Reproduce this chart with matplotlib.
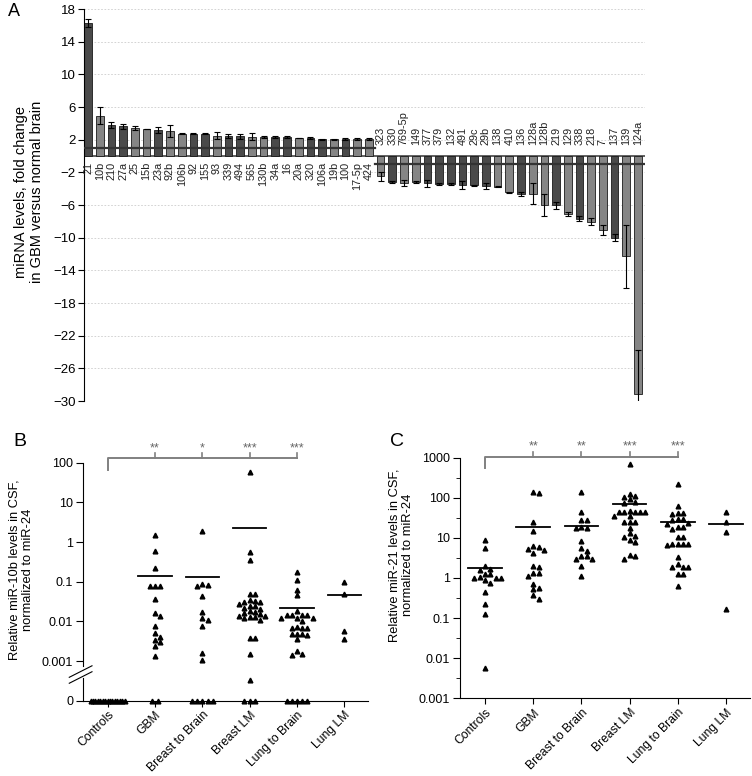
import numpy as np
import matplotlib
matplotlib.use('Agg')
import matplotlib.pyplot as plt
from matplotlib.ticker import FixedLocator, NullFormatter

plt.rcParams['font.family'] = ['Liberation Sans', 'DejaVu Sans']

## Panel A : fold change GBM vs normal brain
mir_up = ['21', '10b', '210', '27a', '25', '15b', '23a', '92b', '106b', '92', '155', '93',
          '339', '494', '565', '130b', '34a', '16', '20a', '320', '106a', '19b', '100',
          '17-5p', '424']
fc_up = [16.3, 4.95, 3.8, 3.65, 3.4, 3.3, 3.15, 3.05, 2.75, 2.75, 2.75, 2.5,
         2.45, 2.4, 2.35, 2.35, 2.3, 2.3, 2.2, 2.2, 2.05, 2.05, 2.05, 2.05, 2.05]
err_up = [0.5, 1.05, 0.4, 0.3, 0.25, 0.05, 0.35, 0.75, 0.05, 0.05, 0.05, 0.45,
          0.25, 0.3, 0.45, 0.15, 0.1, 0.15, 0.05, 0.1, 0.05, 0.05, 0.1, 0.1, 0.1]
shade_up = 'dlddlldlldd' + 'lddlldd' + 'ldd' + 'ldll'

mir_down = ['323', '330', '769-5p', '149', '377', '379', '132', '491', '29c', '29b', '138',
            '410', '136', '128a', '128b', '219', '129', '338', '218', '7', '137', '139', '124a']
fc_down = [-2.5, -3.2, -3.3, -3.2, -3.35, -3.45, -3.45, -3.55, -3.6, -3.65, -3.75,
           -4.45, -4.65, -4.6, -6.0, -6.05, -7.1, -7.7, -8.05, -9.1, -10.0, -12.3, -29.2]
err_down_lo = [0.5, 0.1, 0.4, 0.15, 0.4, 0.15, 0.15, 0.5, 0.05, 0.4, 0.05,
               0.1, 0.3, 1.3, 1.4, 0.45, 0.2, 0.3, 0.4, 0.6, 0.4, 3.9, 1.1]
err_down_hi = [0.5, 0.1, 0.4, 0.15, 0.4, 0.15, 0.15, 0.5, 0.05, 0.4, 0.05,
               0.1, 0.3, 1.3, 1.4, 0.45, 0.2, 0.3, 0.4, 0.6, 0.4, 3.9, 5.4]
shade_down = 'ldlldddddd' + 'lldlldldlldll'

## Panels B and C : CSF levels
groups = ['Controls', 'GBM', 'Breast to Brain', 'Breast LM', 'Lung to Brain', 'Lung LM']

ctrl_10b = [0] * 15
gbm_10b = [1.52, 0.61, 0.22, 0.08, 0.076, 0.078, 0.037, 0.016, 0.0135, 0.0076, 0.0050,
           0.0041, 0.0034, 0.0030, 0.0024, 0.00134, 0, 0]
b2b_10b = [1.85, 0.086, 0.084, 0.077, 0.043, 0.017, 0.0123, 0.0107, 0.0076, 0.00155,
           0.00107, 0, 0, 0, 0, 0]
blm_10b = [59, 0.55, 0.35, 0.05, 0.048, 0.035, 0.033, 0.031, 0.030, 0.028, 0.025, 0.024,
           0.022, 0.020, 0.018, 0.017, 0.016, 0.015, 0.014, 0.0138, 0.013, 0.0128, 0.012,
           0.011, 0.0038, 0.0037, 0.0015, 0.00033, 0, 0, 0]
ltb_10b = [0.176, 0.108, 0.063, 0.045, 0.018, 0.0145, 0.0143, 0.0146, 0.0142, 0.0124,
           0.0122, 0.0123, 0.0102, 0.0070, 0.0069, 0.0068, 0.0071, 0.0047, 0.0046, 0.0048,
           0.0047, 0.0036, 0.0018, 0.00148, 0.00146, 0, 0, 0, 0, 0]
llm_10b = [0.097, 0.050, 0.0056, 0.0036]
means_10b = [np.nan, 0.137, 0.129, 2.3, 0.022, 0.045]
stars_10b = ['**', '*', '***', '***']

ctrl_21 = [8.9, 5.7, 2.03, 1.65, 1.62, 1.27, 1.24, 1.03, 1.01, 1.0, 0.98, 0.89, 0.74,
           0.46, 0.23, 0.127, 0.0056]
gbm_21 = [142, 135, 25, 15, 6.3, 5.9, 5.3, 5.1, 4.3, 1.95, 1.85, 1.37, 1.33, 1.12, 0.71,
          0.56, 0.54, 0.37, 0.30]
b2b_21 = [137, 43, 28.5, 27.5, 18.5, 18, 17.5, 8.3, 5.7, 4.6, 3.6, 3.5, 3.05, 2.95, 2.0, 1.14]
blm_21 = [684, 122, 108, 106, 92, 77, 75, 46, 45.5, 45, 44.5, 44, 43.5, 35.5, 34.5, 25.5,
          25, 24.5, 18, 13, 11.2, 10.8, 9.1, 8.0, 3.65, 3.55, 3.0]
ltb_21 = [218, 63, 41.5, 41, 40.5, 29.5, 29, 28.5, 23.2, 22.8, 19.2, 18.8, 16.6, 10.8,
          10.6, 7.0, 6.95, 6.9, 6.85, 6.8, 3.4, 2.2, 1.9, 1.87, 1.84, 1.27, 1.25, 0.63]
llm_21 = [44, 25, 14.3, 0.166]
means_21 = [1.75, 18.6, 20, 69, 24.5, 22]
stars_21 = ['**', '**', '***', '***']

DARK, LIGHT = '#4a4a4a', '#858585'
W, H = 752, 776
fig = plt.figure(figsize=(W / 100, H / 100), dpi=100)

def box(l, t, r, b):
    return [l / W, 1 - b / H, (r - l) / W, (b - t) / H]

def swarm(ypos, px_x, px_y, step, zero_y=None, zero_width=0.72):
    # greedy beeswarm offsets, zeros go in a flat row
    ypos = np.asarray(ypos, float)
    offs = np.zeros(len(ypos))
    placed = []
    if zero_y is not None:
        iz = np.where(ypos == zero_y)[0]
        n = len(iz)
        if n:
            st = step if n < 2 else min(step, zero_width / (n - 1))
            offs[iz] = (np.arange(n) - (n - 1) / 2) * st
        rest = np.where(ypos != zero_y)[0]
    else:
        rest = np.arange(len(ypos))
    for i in rest[np.argsort(-ypos[rest])]:
        for k in [0, 1, -1, 2, -2, 3, -3, 4, -4, 5, -5, 6, -6]:
            dx = k * step
            if all(((dx - ox) * px_x / 5.0) ** 2 + ((ypos[i] - oy) * px_y / 4.6) ** 2 >= 1
                   for ox, oy in placed):
                break
        offs[i] = dx
        placed.append((dx, ypos[i]))
    return offs

## ---- Panel A
axA = fig.add_axes(box(84, 9, 645, 401))
n_up, n_dn = len(fc_up), len(fc_down)
xu = np.arange(n_up)
xd = np.arange(n_dn) + n_up
cols_up = [DARK if c == 'd' else LIGHT for c in shade_up]
cols_dn = [DARK if c == 'd' else LIGHT for c in shade_down]
axA.bar(xu, fc_up, width=0.66, color=cols_up, edgecolor='#1a1a1a', lw=0.6, zorder=2)
axA.bar(xd, fc_down, width=0.66, color=cols_dn, edgecolor='#1a1a1a', lw=0.6, zorder=2)
axA.errorbar(xu, fc_up, yerr=err_up, fmt='none', ecolor='k', elinewidth=0.8, capsize=2.5, capthick=0.8, zorder=3)
axA.errorbar(xd, fc_down, yerr=[err_down_lo, err_down_hi], fmt='none', ecolor='k',
             elinewidth=0.8, capsize=2.5, capthick=0.8, zorder=3)
axA.axhline(0, color='#555555', lw=1.3, zorder=1.5)
axA.plot([-0.35, n_up - 0.5], [1, 1], color='#333333', lw=1.6, zorder=4)
axA.plot([n_up - 0.5, n_up + n_dn - 0.5], [-1, -1], color='#333333', lw=1.6, zorder=4)
for x, name in zip(xu, mir_up):
    axA.text(x, -0.7, name, rotation=90, ha='center', va='top', fontsize=7.8, color='#222222')
for x, name in zip(xd, mir_down):
    axA.text(x, 1.4, name, rotation=90, ha='center', va='bottom', fontsize=7.8, color='#222222')
axA.set_xlim(-0.35, n_up + n_dn - 0.4)
axA.set_ylim(-30, 18)
axA.set_yticks(np.arange(-30, 19, 4))
axA.grid(axis='y', ls=(0, (2, 2)), color='#cccccc', lw=0.6, zorder=0)
axA.set_xticks([])
for s in ['top', 'right', 'bottom']:
    axA.spines[s].set_visible(False)
axA.tick_params(axis='y', direction='out', length=4, labelsize=9.5, pad=2)
fig.text(29 / W, 1 - 192 / H, 'miRNA levels, fold change\nin GBM versus normal brain',
         rotation=90, ha='center', va='center', fontsize=10.5, linespacing=1.15)
fig.text(8 / W, 1 - 12 / H, 'A', fontsize=13, va='center')

## ---- common for B and C
def scatter_panel(ax, data, means, stars, px_x, px_y, ytr, zero_y=None, br_y=None):
    for g, vals in enumerate(data):
        y = np.array([ytr(v) for v in vals])
        off = swarm(y, px_x, px_y, 0.11, zero_y=zero_y)
        ax.plot(g + off, y, ls='none', marker='^', ms=3.4, color='k', clip_on=False, zorder=3)
        if not np.isnan(means[g]):
            ax.plot([g - 0.35, g + 0.35], [ytr(means[g])] * 2, color='k', lw=1.3, zorder=4)
    # significance bracket
    y0, y1, y2, y3 = br_y
    gc = '#808080'
    ax.plot([0, 0, 4], [y1, y0, y0], color=gc, lw=1.4, clip_on=False)
    for g, st in zip(range(1, 5), stars):
        ax.plot([g, g], [y0, y2], color=gc, lw=1.2, clip_on=False)
        ax.text(g, y3, st, ha='center', va='center', color='#666666', fontsize=9, clip_on=False)
    ax.set_xlim(-0.52, 5.5)
    ax.set_xticks(range(len(groups)))
    ax.set_xticklabels(groups, rotation=45, ha='right', rotation_mode='anchor', fontsize=8.7)
    ax.tick_params(axis='x', direction='out', length=4, pad=2)
    ax.tick_params(axis='y', direction='out', length=5, labelsize=9, pad=2)
    for s in ['top', 'right']:
        ax.spines[s].set_visible(False)

## ---- Panel B (broken axis, zeros below)
axB = fig.add_axes(box(83, 462.7, 368, 700.7))
ZERO = -4.0
def tr_b(v):
    return np.log10(v) if v > 0 else ZERO
data_b = [ctrl_10b, gbm_10b, b2b_10b, blm_10b, ltb_10b, llm_10b]
scatter_panel(axB, data_b, means_10b, stars_10b, 47.6, 39.8, tr_b, zero_y=ZERO,
              br_y=(2.118, 1.817, 2.24, 2.37))
axB.set_ylim(ZERO, 2)
axB.set_yticks([-4, -3, -2, -1, 0, 1, 2])
axB.set_yticklabels(['0', '0.001', '0.01', '0.1', '1', '10', '100'])
axB.spines['left'].set_bounds(-3.12, 2)
axB.plot([-0.52, -0.52], [ZERO, -3.42], color='k', lw=0.8, clip_on=False)
for yb in [-3.56, -3.41]:
    axB.plot([-0.81, -0.33], [yb, yb + 0.29], color='k', lw=0.8, clip_on=False)
fig.text(21 / W, 1 - 570 / H, 'Relative miR-10b levels in CSF,\nnormalized to miR-24',
         rotation=90, ha='center', va='center', fontsize=9.3, linespacing=1.2)
fig.text(13 / W, 1 - 442 / H, 'B', fontsize=14, va='center')

## ---- Panel C (log scale)
axC = fig.add_axes(box(460, 457.7, 750, 698.3))
data_c = [ctrl_21, gbm_21, b2b_21, blm_21, ltb_21, llm_21]
scatter_panel(axC, data_c, means_21, stars_21, 47.8, 40.1, np.log10,
              br_y=(3.01, 2.74, 3.13, 3.27))
axC.set_ylim(-3, 3)
axC.set_yticks(range(-3, 4))
axC.set_yticklabels(['0.001', '0.01', '0.1', '1', '10', '100', '1000'])
axC.yaxis.set_minor_locator(FixedLocator(np.arange(-2.5, 3, 1)))
axC.yaxis.set_minor_formatter(NullFormatter())
axC.tick_params(axis='y', which='minor', direction='out', length=3)
fig.text(401 / W, 1 - 555 / H, 'Relative miR-21 levels in CSF,\nnormalized to miR-24',
         rotation=90, ha='center', va='center', fontsize=9.3, linespacing=1.2)
fig.text(390 / W, 1 - 442 / H, 'C', fontsize=14, va='center')

fig.savefig('out.png', dpi=100)
